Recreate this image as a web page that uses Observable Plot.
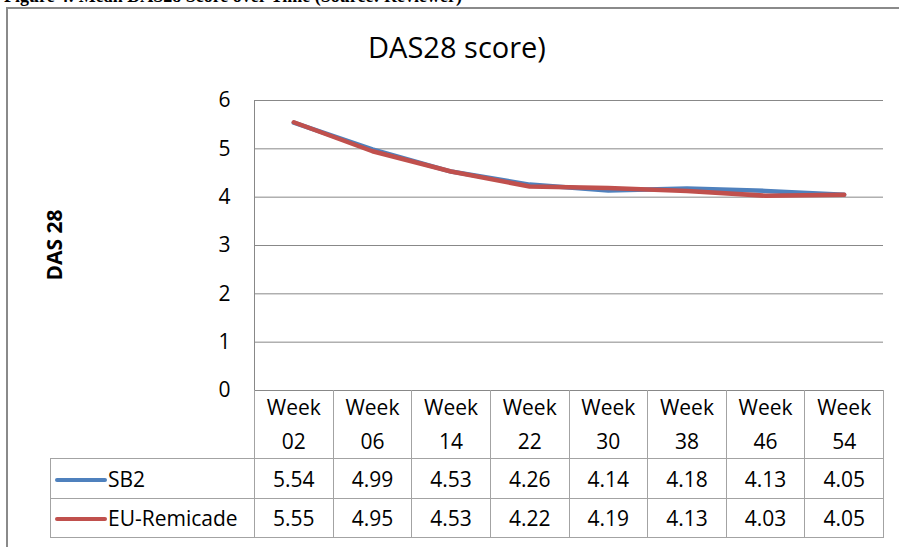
<!DOCTYPE html>
<html>
<head>
<meta charset="utf-8">
<script src="https://cdn.jsdelivr.net/npm/d3@7"></script>
<script src="https://cdn.jsdelivr.net/npm/@observablehq/plot@0.6"></script>
<style>
  html, body { margin: 0; padding: 0; background: #fff; }
  body { width: 899px; height: 547px; overflow: hidden; position: relative; font-family: "Open Sans", sans-serif; color: #000; }
  #caption { position: absolute; left: 4px; top: -13px; font: bold 18px/18px "Liberation Serif", serif; white-space: nowrap; }
  #frame { position: absolute; left: 6px; top: 7px; width: 1000px; height: 700px; border-left: 2px solid #8a8a8a; border-top: 2px solid #8a8a8a; background: #fff; }
  #title { position: absolute; left: 7px; width: 900px; top: 32px; text-align: center; font-size: 29px; line-height: 29px; white-space: nowrap; }
  #ylabel { position: absolute; font-weight: bold; font-size: 21px; white-space: nowrap; transform: translate(-50%, -50%) rotate(-90deg); }
  #chart { position: absolute; left: 0; top: 0; }
  #chart svg { overflow: visible; }
  table.dt { position: absolute; border-collapse: collapse; table-layout: fixed; font-size: 21px; }
  table.dt td { border: 1px solid #a3a3a3; text-align: center; padding: 0; vertical-align: middle; white-space: nowrap; }
  table.dt td.blank { border-left: none; border-top: none; }
  table.dt td.head { border-top: none; line-height: 34px; }
  table.dt td.legend { text-align: left; padding-left: 4px; }
  .swatch { display: inline-block; width: 52px; height: 4px; border-radius: 2px; vertical-align: middle; margin-right: 1px; position: relative; top: -1px; }
</style>
</head>
<body>
<div id="caption">Figure 4: Mean DAS28 Score over Time (Source: Reviewer)</div>
<div id="frame"></div>
<div id="title">DAS28 score)</div>
<div id="ylabel">DAS 28</div>
<div id="chart"></div>
<script>
// ---- data ----
const weeks = ["Week 02", "Week 06", "Week 14", "Week 22", "Week 30", "Week 38", "Week 46", "Week 54"];
const sb2 = [5.54, 4.99, 4.53, 4.26, 4.14, 4.18, 4.13, 4.05];
const remicade = [5.55, 4.95, 4.53, 4.22, 4.19, 4.13, 4.03, 4.05];
const seriesNames = ["SB2", "EU-Remicade"];
const seriesColors = ["#4F81BD", "#C0504D"];
const yTicks = [0, 1, 2, 3, 4, 5, 6];
const titleText = "DAS28 score)";
const yLabelText = "DAS 28";

const seriesValues = [sb2, remicade];
const rows = seriesNames.flatMap((s, k) => seriesValues[k].map((v, i) => ({series: s, i, week: weeks[i], value: v})));

const gridColor = "#888888";

const chart = Plot.plot({
  width: 899,
  height: 547,
  marginLeft: 254,
  marginRight: 16,
  marginTop: 100,
  marginBottom: 157,
  style: {fontFamily: "Open Sans", fontSize: "21px", color: "#000", background: "transparent", overflow: "visible"},
  x: {domain: [0, weeks.length], axis: null},
  y: {domain: [0, 6], ticks: yTicks, tickSize: 0, tickPadding: 24, label: null, tickFormat: d => String(d)},
  color: {domain: seriesNames, range: seriesColors},
  marks: [
    Plot.ruleY(yTicks, {stroke: gridColor, strokeWidth: 1}),
    Plot.ruleX([0], {y1: 0, y2: 6, stroke: gridColor, strokeWidth: 1}),
    Plot.line(rows, {x: d => d.i + 0.5, y: "value", z: "series", stroke: "series", strokeWidth: 4.5, strokeLinejoin: "round", strokeLinecap: "round"})
  ]
});
document.getElementById("chart").appendChild(chart);

const xs = chart.scale("x");
const ys = chart.scale("y");

// title / y label positions
document.getElementById("title").textContent = titleText;
const yl = document.getElementById("ylabel");
yl.textContent = yLabelText;
yl.style.left = "54px";
yl.style.top = ((ys.apply(0) + ys.apply(6)) / 2) + "px";

// ---- data table below the chart, columns aligned to the x scale ----
const edges = d3.range(weeks.length + 1).map(i => xs.apply(i));
const legendLeft = 50;
const table = document.createElement("table");
table.className = "dt";
table.style.left = legendLeft + "px";
table.style.top = Math.round(ys.apply(0)) + "px";
const colgroup = document.createElement("colgroup");
const c0 = document.createElement("col");
c0.style.width = (edges[0] - legendLeft) + "px";
colgroup.appendChild(c0);
weeks.forEach((w, i) => {
  const c = document.createElement("col");
  c.style.width = (edges[i + 1] - edges[i]) + "px";
  colgroup.appendChild(c);
});
table.appendChild(colgroup);
table.style.width = (edges[weeks.length] - legendLeft) + "px";

const hr = document.createElement("tr");
hr.style.height = "67px";
const blank = document.createElement("td");
blank.className = "blank";
hr.appendChild(blank);
weeks.forEach(w => {
  const td = document.createElement("td");
  td.className = "head";
  const parts = w.split(" ");
  td.innerHTML = parts[0] + "<br>" + parts[1];
  hr.appendChild(td);
});
table.appendChild(hr);

const rowHeights = [40, 39];
seriesNames.forEach((s, k) => {
  const tr = document.createElement("tr");
  tr.style.height = rowHeights[k] + "px";
  const lt = document.createElement("td");
  lt.className = "legend";
  const sw = document.createElement("span");
  sw.className = "swatch";
  sw.style.background = seriesColors[k];
  lt.appendChild(sw);
  lt.appendChild(document.createTextNode(s));
  tr.appendChild(lt);
  seriesValues[k].forEach(v => {
    const td = document.createElement("td");
    td.textContent = v.toFixed(2);
    tr.appendChild(td);
  });
  table.appendChild(tr);
});
document.body.appendChild(table);
</script>
</body>
</html>
